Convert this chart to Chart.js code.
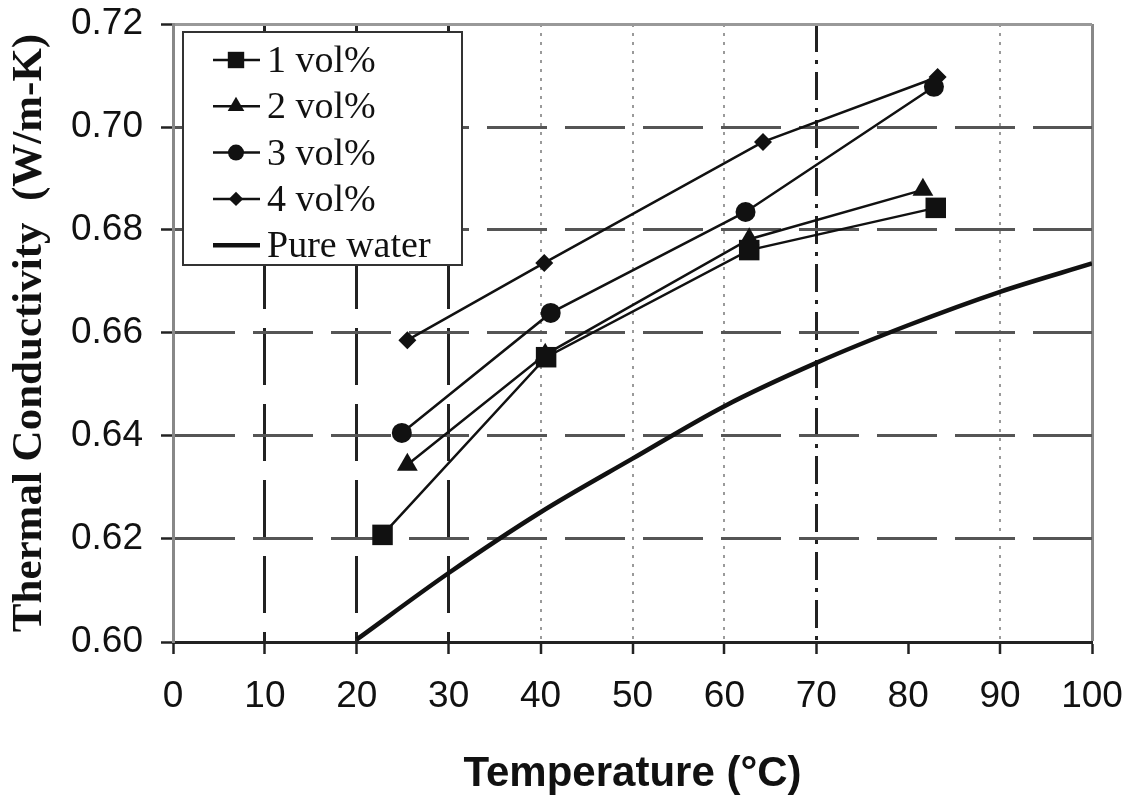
<!DOCTYPE html>
<html>
<head>
<meta charset="utf-8">
<script src="https://cdn.jsdelivr.net/npm/chart.js@4/dist/chart.umd.min.js"></script>
<style>
  html, body { margin: 0; padding: 0; background: #fff; }
  canvas { display: block; }
</style>
</head>
<body>
<canvas id="grafico" width="1132" height="800"></canvas>
<script>
// valores
const temp1 = [22.8, 40.6, 62.7, 83.0];
const cond1 = [0.6208, 0.6553, 0.6761, 0.6843];
const temp2 = [25.5, 40.5, 62.7, 81.6];
const cond2 = [0.6344, 0.6558, 0.6782, 0.6878];
const temp3 = [24.9, 41.1, 62.3, 82.8];
const cond3 = [0.6406, 0.6639, 0.6835, 0.7078];
const temp4 = [25.5, 40.4, 64.2, 83.2];
const cond4 = [0.6586, 0.6736, 0.6971, 0.7097];
const tempAgua = [20, 30, 40, 50, 60, 70, 80, 90, 100];
const condAgua = [0.6005, 0.6134, 0.6252, 0.6356, 0.6458, 0.6542, 0.6615, 0.6680, 0.6735];
const labels = ['1 vol%', '2 vol%', '3 vol%', '4 vol%', 'Pure water'];

const pts = (xs, ys) => xs.map((x, i) => ({ x, y: ys[i] }));

function serie(label, xs, ys, estilo, raio) {
  return {
    label,
    data: pts(xs, ys),
    borderColor: '#111',
    backgroundColor: '#111',
    borderWidth: 2.5,
    pointStyle: estilo,
    pointRadius: raio,
    pointBorderWidth: 0,
    pointBackgroundColor: '#111',
    tension: 0
  };
}

function marcador(ctx, estilo, r, x, y) {
  if (Chart.helpers && Chart.helpers.drawPoint) {
    Chart.helpers.drawPoint(ctx, { pointStyle: estilo, radius: r, rotation: 0, borderWidth: 0 }, x, y);
    return;
  }
  ctx.beginPath();
  ctx.arc(x, y, r, 0, Math.PI * 2);
  ctx.fill();
}

// legenda dentro da área do gráfico
const legendaInterna = {
  id: 'legendaInterna',
  afterDatasetsDraw(chart) {
    const { ctx, chartArea } = chart;
    const x0 = chartArea.left + 10, y0 = chartArea.top + 8;
    ctx.save();
    ctx.fillStyle = '#fff';
    ctx.fillRect(x0, y0, 279, 233);
    ctx.strokeStyle = '#333';
    ctx.lineWidth = 2;
    ctx.strokeRect(x0, y0, 279, 233);
    ctx.font = '38px "Liberation Serif", "DejaVu Serif", serif';
    ctx.textBaseline = 'middle';
    chart.data.datasets.forEach((ds, i) => {
      const cy = y0 + 28 + i * 46.3;
      ctx.strokeStyle = '#111';
      ctx.lineWidth = ds.borderWidth;
      ctx.beginPath();
      ctx.moveTo(x0 + 30, cy);
      ctx.lineTo(x0 + 77, cy);
      ctx.stroke();
      ctx.fillStyle = '#111';
      if (ds.pointRadius > 0) marcador(ctx, ds.pointStyle, ds.pointRadius * 0.8, x0 + 53, cy);
      ctx.fillText(ds.label, x0 + 84, cy + 2);
    });
    ctx.restore();
  }
};

function estiloX(v) {
  if (v === 0 || v === 80) return { cor: 'rgba(0,0,0,0)', larg: 1, dash: [] };
  if (v === 100) return { cor: '#888', larg: 3, dash: [] };
  if (v <= 30) return { cor: '#222', larg: 3, dash: [57, 19] };
  if (v === 70) return { cor: '#222', larg: 3, dash: [28, 8, 4, 8] };
  return { cor: '#9a9a9a', larg: 2, dash: [3, 6] };
}

function estiloY(v) {
  const c = Math.round(v * 100);
  if (c === 60) return { cor: 'rgba(0,0,0,0)', larg: 1, dash: [] };
  if (c === 72) return { cor: '#999', larg: 3, dash: [] };
  return { cor: '#555', larg: 3, dash: [60, 18] };
}

const fonteTicks = { family: '"Liberation Sans", Arial, sans-serif', size: 37 };

new Chart(document.getElementById('grafico'), {
  type: 'line',
  data: {
    datasets: [
      serie(labels[0], temp1, cond1, 'rect', 14.5),
      serie(labels[1], temp2, cond2, 'triangle', 12),
      serie(labels[2], temp3, cond3, 'circle', 10),
      serie(labels[3], temp4, cond4, 'rectRot', 9),
      {
        label: labels[4],
        data: pts(tempAgua, condAgua),
        borderColor: '#111',
        borderWidth: 4.5,
        pointRadius: 0,
        cubicInterpolationMode: 'monotone'
      }
    ]
  },
  options: {
    responsive: false,
    animation: false,
    layout: { padding: { top: 24, right: 40, left: 0, bottom: 0 } },
    plugins: { legend: { display: false }, tooltip: { enabled: false } },
    scales: {
      x: {
        type: 'linear',
        min: 0,
        max: 100,
        afterFit: s => { s.height = 158; s.paddingLeft = 0; s.paddingRight = 0; },
        ticks: { stepSize: 10, color: '#111', font: fonteTicks, padding: 21, maxRotation: 0 },
        grid: {
          color: c => estiloX(c.tick.value).cor,
          lineWidth: c => estiloX(c.tick.value).larg,
          tickColor: '#222',
          tickWidth: 2.5,
          tickLength: 12,
          tickBorderDash: []
        },
        border: { display: true, color: '#222', width: 3, dash: c => estiloX(c.tick.value).dash },
        title: {
          display: true,
          text: 'Temperature (°C)',
          color: '#111',
          font: { family: '"Liberation Sans", Arial, sans-serif', size: 42, weight: 'bold' },
          padding: { bottom: 0 }
        }
      },
      y: {
        min: 0.6,
        max: 0.72,
        afterFit: s => { s.width = 173; s.paddingTop = 0; s.paddingBottom = 0; },
        ticks: { stepSize: 0.02, color: '#111', font: fonteTicks, padding: 18, callback: v => v.toFixed(2) },
        grid: {
          color: c => estiloY(c.tick.value).cor,
          lineWidth: c => estiloY(c.tick.value).larg,
          tickColor: '#222',
          tickWidth: 2.5,
          tickLength: 12,
          tickBorderDash: []
        },
        border: { display: true, color: '#888', width: 3, dash: c => estiloY(c.tick.value).dash },
        title: {
          display: true,
          text: 'Thermal Conductivity  (W/m-K)',
          color: '#111',
          font: { family: '"Liberation Serif", "Times New Roman", serif', size: 43, weight: 'bold' },
          padding: { top: 4 }
        }
      }
    }
  },
  plugins: [legendaInterna]
});
</script>
</body>
</html>
